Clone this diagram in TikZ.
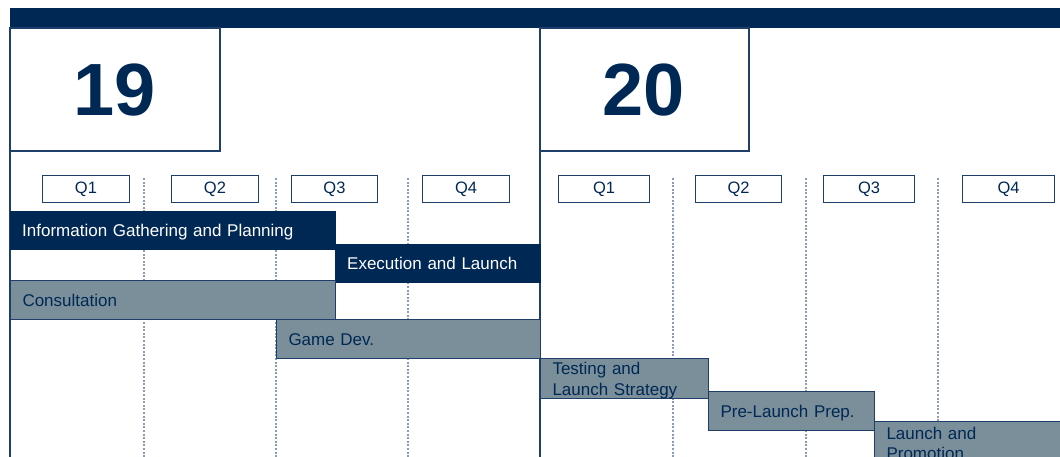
\documentclass[tikz,border=0pt]{standalone}
\usepackage{fontspec}
\setmainfont{Liberation Sans}
\usepackage{xcolor}
\usepackage{tikz}
\usetikzlibrary{positioning}

\definecolor{navy}{HTML}{002855}
\definecolor{slate}{HTML}{7A8F99}
\definecolor{rulecol}{HTML}{1F3F6B}
\definecolor{dotcol}{HTML}{8C9CB8}

\begin{document}
\begin{tikzpicture}[x=1pt,y=-1pt,
    frame/.style={draw=rulecol, line width=1.2pt},
    quarter/.style={draw=rulecol, line width=1pt, anchor=north west, minimum height=27pt,
        inner sep=0pt, text=navy, font=\fontsize{16.5}{16.5}\selectfont},
    year/.style={text=navy, font=\fontsize{74}{74}\selectfont\bfseries},
    phase/.style={anchor=north west, inner xsep=12pt, inner ysep=0pt, align=left,
        font=\fontsize{17}{20.5}\selectfont},
    oneline/.style={text height=12.4pt, text depth=0pt},
    twoline/.style={execute at begin node={\rule{0pt}{16.2pt}}},
    dark/.style={phase, fill=navy, draw=navy, text=white},
    light/.style={phase, fill=slate, draw=rulecol, line width=1pt, text=navy}]
    \useasboundingbox (0,0) rectangle (1060,457);
    \clip (0,0) rectangle (1060,457);

    % header band and year frames
    \fill[navy] (10,8) rectangle (1060,28);
    \draw[frame] (10,28) -- (10,460);
    \draw[frame] (10,28) rectangle (220,151);
    \draw[frame] (540,28) rectangle (749,151);
    \draw[frame, line width=1.6pt] (540,28) -- (540,460);
    \node[year] (y19) at (115,90) {19};
    \node[year] (y20) at (644,90) {20};

    % quarter separators
    \foreach \x in {144,276,408,673,806,938}
        \draw[dotcol, line width=1.1pt, dash pattern=on 2pt off 1.6pt] (\x,178) -- (\x,460);

    % quarter labels
    \foreach \x/\w/\t/\n in {42/87/Q1/a1, 171/87/Q2/a2, 291/86/Q3/a3, 422/87/Q4/a4,
                             558/91/Q1/b1, 695/86/Q2/b2, 823/91/Q3/b3, 962/92/Q4/b4}
        \node[quarter, minimum width=\w pt] (q\n) at (\x,175) {\t};

    % phases
    \node[dark, oneline, text width=301pt, minimum height=38pt] (info) at (10,211)
        {Information Gathering and Planning};
    \node[dark, oneline, text width=181pt, minimum height=38pt] (exec) at (335,244)
        {Execution and Launch};
    \node[light, oneline, text width=301pt, minimum height=39pt] (consult) at (10,280)
        {Consultation};
    \node[light, oneline, text width=240pt, minimum height=39pt] (gamedev) at (276,319)
        {Game Dev.};
    \node[light, twoline, text width=144pt, minimum height=40pt] (testing) at (540,358)
        {Testing and\\Launch Strategy};
    \node[light, oneline, text width=142pt, minimum height=39pt] (prelaunch) at (708,391)
        {Pre-Launch Prep.};
    \node[light, twoline, text width=176pt, minimum height=40pt] (launch) at (874,421)
        {Launch and\\Promotion};
\end{tikzpicture}
\end{document}
